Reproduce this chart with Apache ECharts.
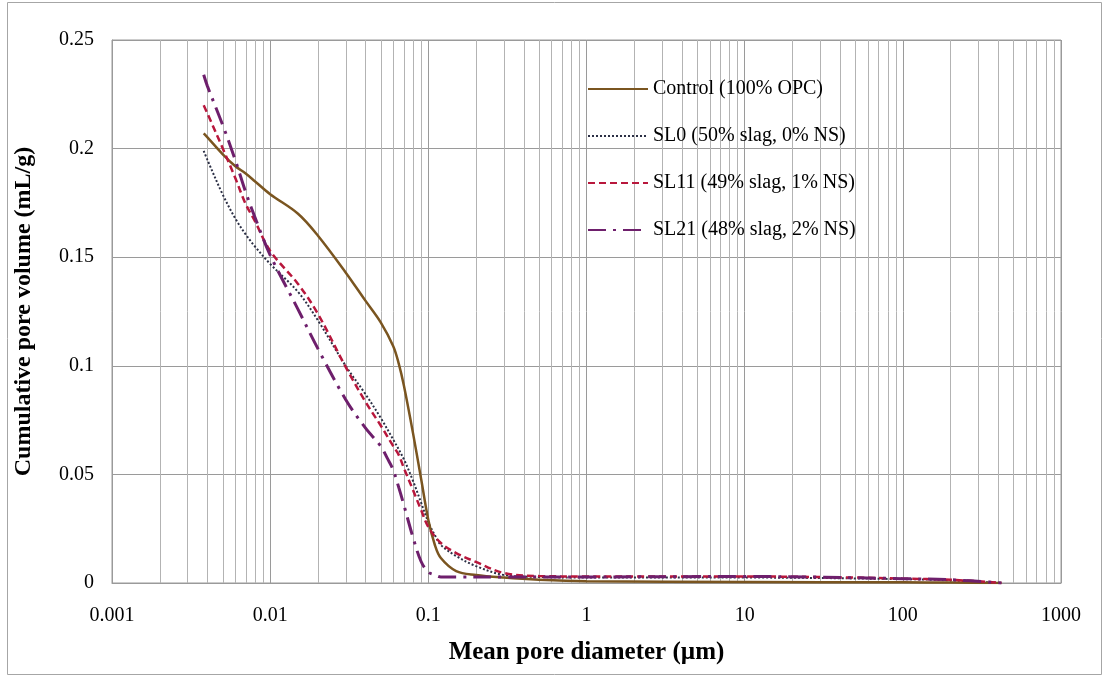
<!DOCTYPE html>
<html><head><meta charset="utf-8">
<script src="https://cdn.jsdelivr.net/npm/echarts@6/dist/echarts.min.js"></script>
<style>html,body{margin:0;padding:0;background:#fff}#c{width:1108px;height:676px}</style>
</head><body><div id="c"></div>
<script>
const seriesNames = ['Control (100% OPC)', 'SL0 (50% slag, 0% NS)', 'SL11 (49% slag, 1% NS)', 'SL21 (48% slag, 2% NS)'];

const controlX = [0.0038, 0.004, 0.005, 0.006, 0.007, 0.008, 0.01, 0.015, 0.02, 0.03, 0.04, 0.05, 0.06, 0.065, 0.07, 0.08, 0.09, 0.1, 0.11, 0.12, 0.15, 0.2, 0.3, 0.5, 1, 10, 100, 200, 420];
const controlY = [0.207, 0.2053, 0.1975, 0.192, 0.1885, 0.185, 0.179, 0.170, 0.160, 0.143, 0.130, 0.120, 0.109, 0.101, 0.091, 0.069, 0.048, 0.029, 0.0175, 0.0115, 0.0055, 0.0037, 0.0025, 0.0015, 0.0008, 0.0005, 0.0003, 0.0002, 0];

const sl0X = [0.0038, 0.004, 0.005, 0.006, 0.007, 0.008, 0.01, 0.015, 0.02, 0.03, 0.04, 0.05, 0.06, 0.07, 0.08, 0.09, 0.1, 0.11, 0.12, 0.15, 0.2, 0.3, 0.5, 1, 10, 100, 200, 420];
const sl0Y = [0.199, 0.195, 0.179, 0.168, 0.1605, 0.155, 0.1469, 0.134, 0.121, 0.100, 0.087, 0.076, 0.066, 0.057, 0.047, 0.037, 0.028, 0.022, 0.0175, 0.0124, 0.0078, 0.0037, 0.0028, 0.0025, 0.0025, 0.0018, 0.0012, 0];

const sl11X = [0.0038, 0.004, 0.005, 0.006, 0.007, 0.008, 0.01, 0.015, 0.02, 0.03, 0.04, 0.05, 0.06, 0.065, 0.07, 0.08, 0.09, 0.1, 0.12, 0.15, 0.2, 0.3, 0.5, 1, 10, 50, 100, 200, 420];
const sl11Y = [0.22, 0.2164, 0.2003, 0.1867, 0.1745, 0.1667, 0.1529, 0.1377, 0.124, 0.0995, 0.0835, 0.0725, 0.063, 0.059, 0.053, 0.0428, 0.0336, 0.0258, 0.0184, 0.0138, 0.0097, 0.0046, 0.0032, 0.003, 0.003, 0.0025, 0.002, 0.0015, 0];

const sl21X = [0.0038, 0.004, 0.005, 0.006, 0.007, 0.008, 0.01, 0.015, 0.02, 0.03, 0.04, 0.05, 0.055, 0.06, 0.065, 0.07, 0.08, 0.09, 0.1, 0.11, 0.12, 0.15, 0.3, 1, 10, 100, 200, 420];
const sl21Y = [0.234, 0.229, 0.211, 0.195, 0.18, 0.1685, 0.151, 0.126, 0.108, 0.0845, 0.0714, 0.063, 0.0575, 0.052, 0.044, 0.036, 0.021, 0.0099, 0.005, 0.0037, 0.0028, 0.0028, 0.0028, 0.0028, 0.003, 0.002, 0.0015, 0];

const xMin = 0.001, xMax = 1000;
const yMin = 0, yMax = 0.25, yStep = 0.05;

function zip(xs, ys) { return xs.map((x, i) => [x, ys[i]]); }

// minor gridline positions (2..9 within each decade)
const minorVals = [];
for (let e = -3; e < 3; e++) {
  for (let m = 2; m <= 9; m++) minorVals.push([parseFloat((m * Math.pow(10, e)).toPrecision(3)), 0]);
}

const FONT = 'Liberation Serif, Times New Roman, serif';
const GRID = '#9a9a9a';

const chart = echarts.init(document.getElementById('c'));
chart.setOption({
  animation: false,
  backgroundColor: '#fff',
  graphic: [{
    type: 'rect', silent: true, z: -10,
    shape: { x: 7.5, y: 2.5, width: 1094, height: 672 },
    style: { fill: 'none', stroke: '#a6a6a6', lineWidth: 1 }
  }],
  grid: { left: 112, right: 47, top: 40, bottom: 93, show: true, borderColor: GRID, borderWidth: 1 },
  legend: {
    orient: 'vertical', left: 582, top: 74,
    itemWidth: 60, itemHeight: 14, itemGap: 27,
    data: seriesNames,
    itemStyle: { opacity: 0 },
    textStyle: { fontFamily: FONT, fontSize: 20, color: '#000', lineHeight: 20 }
  },
  xAxis: {
    type: 'log', logBase: 10, min: xMin, max: xMax,
    name: 'Mean pore diameter (µm)', nameLocation: 'middle', nameGap: 57,
    nameTextStyle: { fontFamily: FONT, fontWeight: 'bold', fontSize: 25, color: '#000' },
    axisLine: { show: true, lineStyle: { color: GRID } },
    axisTick: { show: false },
    axisLabel: { fontFamily: FONT, fontSize: 20, color: '#000', margin: 23,
      formatter: v => String(parseFloat(Number(v).toPrecision(4))) },
    splitLine: { show: true, lineStyle: { color: GRID, width: 1 } },
    minorTick: { show: false }, minorSplitLine: { show: false }
  },
  yAxis: {
    type: 'value', min: yMin, max: yMax, interval: yStep,
    name: 'Cumulative pore volume (mL/g)', nameLocation: 'middle', nameGap: 76,
    nameTextStyle: { fontFamily: FONT, fontWeight: 'bold', fontSize: 24, color: '#000' },
    axisLine: { show: true, lineStyle: { color: GRID } },
    axisTick: { show: false },
    axisLabel: { fontFamily: FONT, fontSize: 20, color: '#000', margin: 18,
      formatter: v => String(parseFloat(Number(v).toFixed(2))) },
    splitLine: { show: true, lineStyle: { color: GRID, width: 1 } }
  },
  series: [
    {
      type: 'custom', silent: true, z: 1, data: minorVals, encode: { x: 0, y: 1 },
      renderItem: (params, api) => {
        const v = api.value(0);
        const p0 = api.coord([v, yMin]);
        const p1 = api.coord([v, yMax]);
        const x = Math.round(p0[0]) + 0.5;
        return { type: 'line', shape: { x1: x, y1: p0[1], x2: x, y2: p1[1] },
          style: { stroke: '#b3b3b3', lineWidth: 1 } };
      }
    },
    {
      name: seriesNames[0], type: 'line', data: zip(controlX, controlY), symbol: 'none', showSymbol: false,
      smooth: 0.35, z: 5,
      lineStyle: { color: '#7a5520', width: 2.5 }, itemStyle: { color: '#7a5520' }
    },
    {
      name: seriesNames[1], type: 'line', data: zip(sl0X, sl0Y), symbol: 'none', showSymbol: false,
      smooth: 0.35, z: 4,
      lineStyle: { color: '#2b2f45', width: 2, type: [2, 2] }, itemStyle: { color: '#2b2f45' }
    },
    {
      name: seriesNames[2], type: 'line', data: zip(sl11X, sl11Y), symbol: 'none', showSymbol: false,
      smooth: 0.35, z: 6,
      lineStyle: { color: '#b8173c', width: 2.5, type: [7, 4] }, itemStyle: { color: '#b8173c' }
    },
    {
      name: seriesNames[3], type: 'line', data: zip(sl21X, sl21Y), symbol: 'none', showSymbol: false,
      smooth: 0.35, z: 7,
      lineStyle: { color: '#6e1f6c', width: 3, type: [18, 7, 3, 7] }, itemStyle: { color: '#6e1f6c' }
    }
  ]
});
</script></body></html>
